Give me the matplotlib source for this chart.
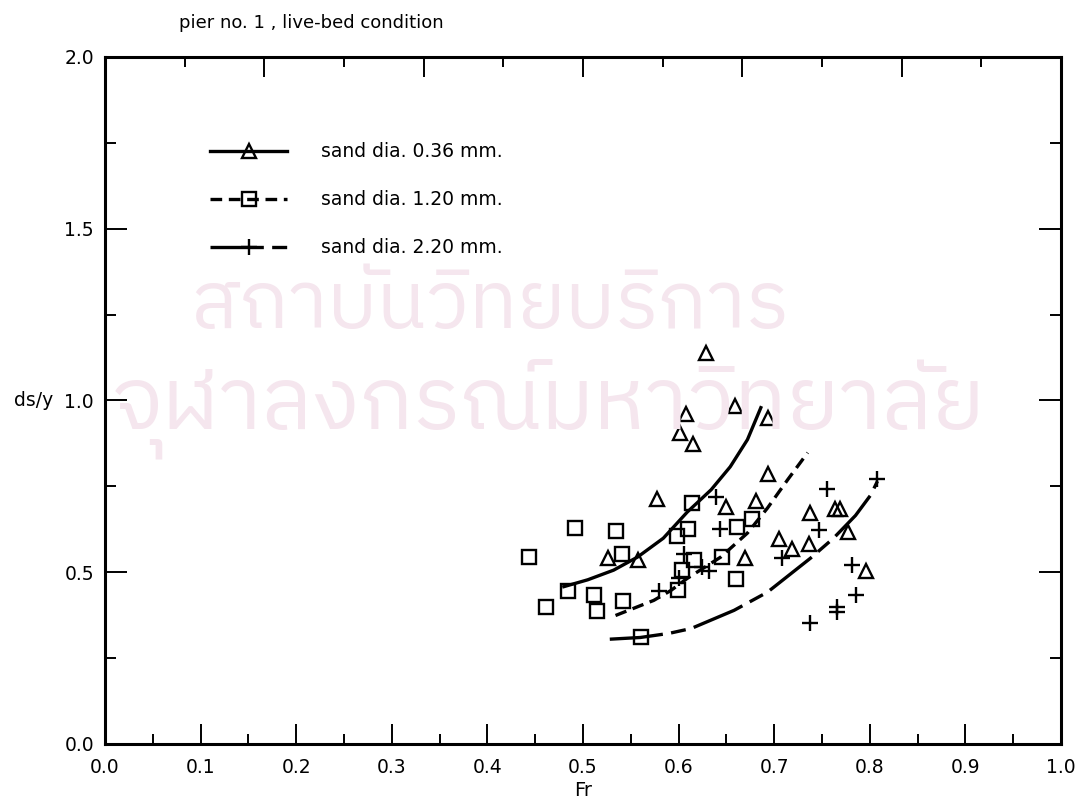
import matplotlib
matplotlib.use('Agg')
import matplotlib.pyplot as plt
from matplotlib import font_manager as fm
from matplotlib.lines import Line2D
from matplotlib.ticker import MultipleLocator, FixedLocator

# measured scour depth ratio ds/y against Froude number, pier no. 1, live-bed
fr_036 = [0.629, 0.659, 0.608, 0.693, 0.601, 0.615, 0.694, 0.577, 0.650, 0.681, 0.737,
          0.764, 0.769, 0.777, 0.705, 0.719, 0.736, 0.669, 0.796, 0.526, 0.557]
dsy_036 = [1.137, 0.983, 0.962, 0.948, 0.904, 0.872, 0.787, 0.714, 0.691, 0.708, 0.673,
           0.685, 0.685, 0.618, 0.598, 0.568, 0.583, 0.542, 0.504, 0.542, 0.536]

fr_120 = [0.444, 0.461, 0.484, 0.492, 0.511, 0.515, 0.534, 0.541, 0.542, 0.561,
          0.598, 0.599, 0.604, 0.610, 0.614, 0.616, 0.645, 0.660, 0.661, 0.677]
dsy_120 = [0.545, 0.400, 0.445, 0.628, 0.433, 0.387, 0.620, 0.552, 0.416, 0.310,
           0.605, 0.448, 0.506, 0.626, 0.702, 0.535, 0.543, 0.480, 0.632, 0.655]

fr_220 = [0.579, 0.600, 0.606, 0.624, 0.632, 0.639, 0.643, 0.708, 0.737, 0.747,
          0.755, 0.766, 0.766, 0.781, 0.786, 0.808]
dsy_220 = [0.444, 0.484, 0.552, 0.515, 0.503, 0.719, 0.626, 0.542, 0.352, 0.623,
           0.743, 0.398, 0.383, 0.520, 0.433, 0.770]

# best-fit curves for each sand size
fit_fr_036 = [0.480, 0.505, 0.532, 0.557, 0.584, 0.609, 0.634, 0.654, 0.672, 0.686]
fit_dsy_036 = [0.458, 0.478, 0.506, 0.544, 0.599, 0.675, 0.740, 0.807, 0.886, 0.979]

fit_fr_120 = [0.534, 0.553, 0.574, 0.592, 0.609, 0.644, 0.672, 0.693, 0.714, 0.735]
fit_dsy_120 = [0.374, 0.395, 0.418, 0.447, 0.482, 0.544, 0.614, 0.687, 0.769, 0.848]

fit_fr_220 = [0.528, 0.560, 0.590, 0.613, 0.658, 0.693, 0.738, 0.762, 0.785, 0.801, 0.808]
fit_dsy_220 = [0.305, 0.310, 0.322, 0.336, 0.389, 0.442, 0.541, 0.599, 0.665, 0.725, 0.765]

labels = ['sand dia. 0.36 mm.', 'sand dia. 1.20 mm.', 'sand dia. 2.20 mm.']
x_ticks = [0.0, 0.1, 0.2, 0.3, 0.4, 0.5, 0.6, 0.7, 0.8, 0.9, 1.0]
y_ticks = [0.0, 0.5, 1.0, 1.5, 2.0]

plt.rcParams['font.family'] = 'DejaVu Sans'

fig = plt.figure(figsize=(10.87, 8.01), dpi=100)
ax = fig.add_axes([0.0966, 0.0712, 0.8795, 0.8577])

# faint library stamp behind the plot, only if a Thai font is around
thai = [f.name for f in fm.fontManager.ttflist if 'Thai' in f.name]
if thai:
    stamp = dict(family=[thai[0], 'DejaVu Sans'], color='#f5e6ee', ha='center',
                 va='center', zorder=0)
    fig.text(0.450, 0.618, 'สถาบันวิทยบริการ', fontsize=58, **stamp)
    fig.text(0.505, 0.488, 'จุฬาลงกรณ์มหาวิทยาลัย', fontsize=63, **stamp)
    ax.set_facecolor('none')

lw = 2.4
ls_120 = (0, (3.5, 2.0))
ls_220 = (0, (16, 2.5, 4.5, 2.5))

ax.plot(fit_fr_036, fit_dsy_036, color='k', lw=lw, ls='-')
ax.plot(fit_fr_120, fit_dsy_120, color='k', lw=lw, ls=ls_120)
ax.plot(fit_fr_220, fit_dsy_220, color='k', lw=lw, ls=ls_220)

mk = dict(ls='none', mfc='none', mec='k', color='k', mew=1.7)
ax.plot(fr_036, dsy_036, marker='^', ms=9.5, **mk)
ax.plot(fr_120, dsy_120, marker='s', ms=9.5, **mk)
ax.plot(fr_220, dsy_220, marker='+', ms=11, **mk)

ax.set_xlim(0, 1.0)
ax.set_ylim(0, 2.0)
ax.set_xticks(x_ticks)
ax.set_yticks(y_ticks)
ax.xaxis.set_minor_locator(MultipleLocator(0.05))
ax.yaxis.set_minor_locator(MultipleLocator(0.25))
ax.xaxis.set_major_formatter('{x:.1f}')
ax.yaxis.set_major_formatter('{x:.1f}')
ax.tick_params(which='both', direction='in', width=1.4, top=False, right=True,
               labelsize=13.5, color='k')
ax.tick_params(axis='x', which='major', length=14.5, pad=10)
ax.tick_params(axis='x', which='minor', length=7)
ax.tick_params(axis='y', which='major', length=15.5, pad=8)
ax.tick_params(axis='y', which='minor', length=8)
for sp in ax.spines.values():
    sp.set_linewidth(2.2)

# top edge carries its own twelve-division scale
top = ax.twiny()
top.set_xlim(0, 12)
top.xaxis.set_major_locator(FixedLocator([2, 4, 6, 8, 10]))
top.xaxis.set_minor_locator(FixedLocator([1, 3, 5, 7, 9, 11]))
top.tick_params(which='both', direction='in', width=1.4, labeltop=False)
top.tick_params(which='major', length=14.5)
top.tick_params(which='minor', length=7)
for sp in top.spines.values():
    sp.set_visible(False)

ax.set_xlabel('Fr', fontsize=14, va='center')
ax.xaxis.set_label_coords(0.5, -0.068)
ax.set_ylabel('ds/y', fontsize=13.5, rotation=0, ha='right', va='center')
ax.yaxis.set_label_coords(-0.054, 0.5)

handles = [
    Line2D([], [], color='k', lw=lw, ls='-', marker='^', ms=9.5, mfc='none', mew=1.7),
    Line2D([], [], color='k', lw=lw, ls=ls_120, marker='s', ms=9.5, mfc='none', mew=1.7),
    Line2D([], [], color='k', lw=lw, ls=ls_220, marker='+', ms=11, mew=1.7),
]
ax.legend(handles, labels, loc='center left', bbox_to_anchor=(0.110, 0.792),
          frameon=False, fontsize=13.5, numpoints=1, handlelength=4.1,
          handletextpad=1.8, labelspacing=1.55, borderpad=0, borderaxespad=0)

fig.text(0.1647, 0.971, 'pier no. 1 , live-bed condition', fontsize=13,
         ha='left', va='center')

fig.savefig('out.png', dpi=100)
